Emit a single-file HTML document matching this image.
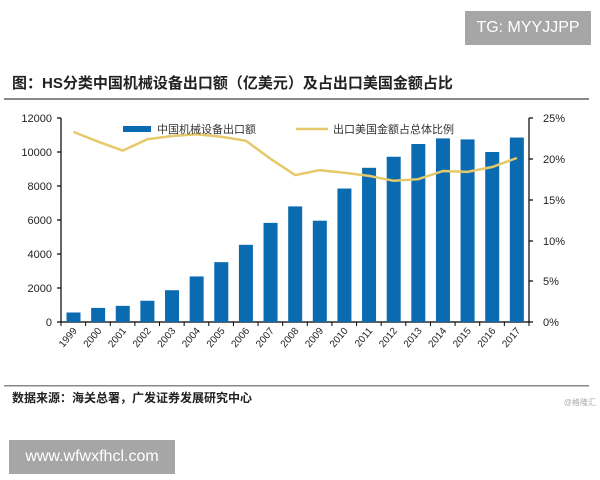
<!DOCTYPE html>
<html><head><meta charset="utf-8"><style>
body{margin:0;width:600px;height:480px;background:#fff;overflow:hidden;position:relative;font-family:"Liberation Sans","Noto Sans CJK SC",sans-serif}
.tg{position:absolute;left:465px;top:11px;width:126px;height:34px;background:#a6a6a6;color:#fff;font-size:16px;line-height:34px;text-align:center}
.wm{position:absolute;left:9px;top:440px;width:166px;height:34px;background:#a6a6a6;color:#fff;font-size:16px;line-height:34px;text-align:center}
</style></head><body>
<div class="tg">TG: MYYJJPP</div>
<svg width="600" height="480" style="position:absolute;left:0;top:0" font-family="Liberation Sans, Noto Sans CJK SC, sans-serif">
<text x="12" y="88" font-size="15" font-weight="bold" fill="#222">图：HS分类中国机械设备出口额（亿美元）及占出口美国金额占比</text>
<rect x="4" y="98" width="585" height="2" fill="#888"/>
<g font-size="11" fill="#222">
<text x="52" y="122" text-anchor="end">12000</text>
<text x="52" y="156" text-anchor="end">10000</text>
<text x="52" y="190" text-anchor="end">8000</text>
<text x="52" y="224" text-anchor="end">6000</text>
<text x="52" y="258" text-anchor="end">4000</text>
<text x="52" y="292" text-anchor="end">2000</text>
<text x="52" y="326" text-anchor="end">0</text>
<text x="543" y="122">25%</text><text x="543" y="163">20%</text><text x="543" y="204">15%</text><text x="543" y="245">10%</text><text x="543" y="285">5%</text><text x="543" y="326">0%</text>
</g>
<g stroke="#000" stroke-width="1.2">
<line x1="61" y1="118" x2="61" y2="322"/><line x1="529" y1="118" x2="529" y2="322"/><line x1="61" y1="322" x2="529" y2="322"/>
<line x1="57" y1="118" x2="61" y2="118"/><line x1="57" y1="152" x2="61" y2="152"/><line x1="57" y1="186" x2="61" y2="186"/><line x1="57" y1="220" x2="61" y2="220"/><line x1="57" y1="254" x2="61" y2="254"/><line x1="57" y1="288" x2="61" y2="288"/><line x1="57" y1="322" x2="61" y2="322"/>
<line x1="529" y1="118" x2="533" y2="118"/><line x1="529" y1="159" x2="533" y2="159"/><line x1="529" y1="200" x2="533" y2="200"/><line x1="529" y1="241" x2="533" y2="241"/><line x1="529" y1="281" x2="533" y2="281"/><line x1="529" y1="322" x2="533" y2="322"/>
</g>
<g id="bars" fill="#0a6bb0"></g>
<g id="ticks" stroke="#000"></g>
<g id="lbl" font-size="10" fill="#222"></g>
<polyline id="ln" fill="none" stroke="#e6c96a" stroke-width="2.5"/>
<rect x="123" y="126" width="28" height="6" fill="#0a6bb0"/>
<text x="157" y="133" font-size="11" fill="#333">中国机械设备出口额</text>
<line x1="296" y1="129" x2="328" y2="129" stroke="#e6c96a" stroke-width="2.5"/>
<text x="333" y="133" font-size="11" fill="#333">出口美国金额占总体比例</text>
<rect x="4" y="385" width="585" height="1.5" fill="#888"/>
<text x="12" y="402" font-size="12" font-weight="bold" fill="#222">数据来源：海关总署，广发证券发展研究中心</text>
<text x="596" y="405" font-size="8" fill="#aaa" text-anchor="end">@格隆汇</text>
</svg>
<div class="wm">www.wfwxfhcl.com</div>
<script>
var v=[560,830,950,1250,1870,2680,3520,4540,5830,6800,5960,7850,9070,9720,10470,10800,10740,10000,10850];
var p=[23.3,22.1,21,22.4,22.8,23,22.7,22.2,20,18,18.6,18.3,17.9,17.3,17.5,18.5,18.4,19,20.1];
var b='',t='',l='',pts=[];
for(var i=0;i<19;i++){var cx=73.5+i*24.63;var h=v[i]*0.017;
b+='<rect x="'+(cx-7)+'" y="'+(322-h)+'" width="14" height="'+h+'"/>';
var tx=61+i*24.63;t+='<line x1="'+tx+'" y1="322" x2="'+tx+'" y2="326"/>';
l+='<text transform="translate('+(cx+4)+',331) rotate(-50)" text-anchor="end">'+(1999+i)+'</text>';
pts.push(cx+','+(322-p[i]*8.16).toFixed(1));}
document.getElementById('bars').innerHTML=b;document.getElementById('ticks').innerHTML=t+'<line x1="529" y1="322" x2="529" y2="326"/>';
document.getElementById('lbl').innerHTML=l;document.getElementById('ln').setAttribute('points',pts.join(' '));
</script>
</body></html>
